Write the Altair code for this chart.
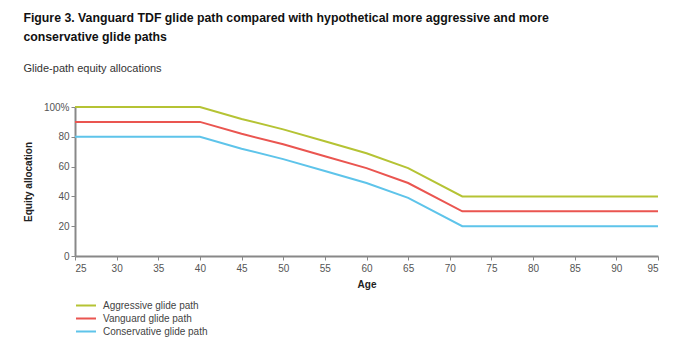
import altair as alt
import pandas as pd

ages = [25, 40, 45, 50, 55, 60, 65, 71.5, 95]
vanguard = [90, 90, 82, 75, 67, 59, 49, 30, 30]
aggressive = [100, 100, 92, 85, 77, 69, 59, 40, 40]
conservative = [80, 80, 72, 65, 57, 49, 39, 20, 20]
series = ["Aggressive glide path", "Vanguard glide path", "Conservative glide path"]
colors = ["#b5c334", "#ea5550", "#5ec4ea"]

rows = []
for name, vals in zip(series, [aggressive, vanguard, conservative]):
    for a, v in zip(ages, vals):
        rows.append({"Age": a, "Equity": v, "Series": name})
df = pd.DataFrame(rows)

font = "Liberation Sans"

chart = alt.Chart(df).mark_line(strokeWidth=2).encode(
    x=alt.X("Age:Q", scale=alt.Scale(domain=[25, 95], nice=False, zero=False),
            axis=alt.Axis(values=list(range(25, 100, 5)), title="Age", grid=False,
                          domainColor="#888888", domainWidth=2, tickColor="#888888",
                          tickSize=4, labelColor="#555555", labelFontSize=10,
                          labelFont=font, titleFont=font, titleFontSize=10,
                          titleColor="#222222", titlePadding=6, labelPadding=3)),
    y=alt.Y("Equity:Q", scale=alt.Scale(domain=[0, 100], nice=False),
            axis=alt.Axis(values=[0, 20, 40, 60, 80, 100], title="Equity allocation",
                          grid=False, domainColor="#888888", domainWidth=2,
                          tickColor="#888888", tickSize=4, labelColor="#555555",
                          labelFontSize=10, labelFont=font, titleFont=font,
                          titleFontSize=10, titleColor="#222222", titlePadding=10,
                          labelExpr="datum.value == 100 ? '100%' : datum.label")),
    color=alt.Color("Series:N", sort=series,
                    scale=alt.Scale(domain=series, range=colors),
                    legend=alt.Legend(title=None, orient="none", legendX=0, legendY=192,
                                      symbolType="stroke", symbolSize=400,
                                      symbolStrokeWidth=2, labelFont=font,
                                      labelFontSize=10, labelColor="#444444",
                                      rowPadding=0, clipHeight=13, labelOffset=6)),
    order=alt.Order("Age:Q"),
).properties(
    width=583, height=149,
    autosize=alt.AutoSizeParams(type="none"),
    padding={"left": 75, "top": 107, "right": 20, "bottom": 94},
    title=alt.TitleParams(
        text=["Figure 3. Vanguard TDF glide path compared with hypothetical more aggressive and more",
              "conservative glide paths"],
        subtitle="Glide-path equity allocations",
        anchor="start", dx=0, font=font, fontSize=12.3, fontWeight="bold",
        color="#111111", lineHeight=19, subtitleFont=font, subtitleFontSize=11,
        subtitleColor="#333333", subtitlePadding=20, offset=28),
).configure_view(stroke=None)

chart.save("out.html", embed_options={"renderer": "svg", "actions": False})
